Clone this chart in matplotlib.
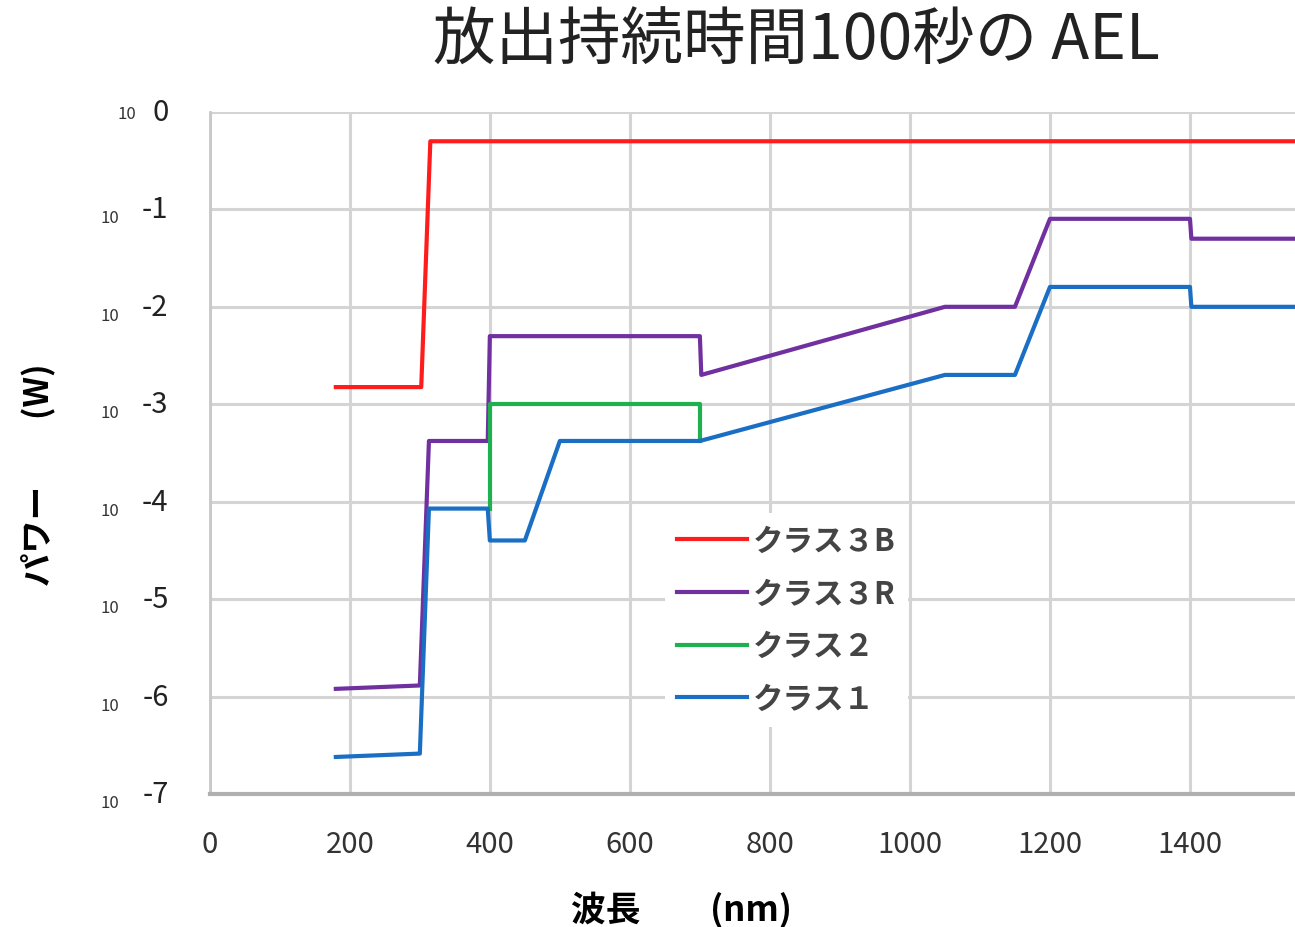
import matplotlib
matplotlib.use('Agg')
import matplotlib.pyplot as plt
import matplotlib.transforms as mtransforms

plt.rcParams['font.family'] = ['Noto Sans CJK JP', 'DejaVu Sans']

# data (wavelength nm, power W)
x_3b = [180, 302, 315, 1550]
y_3b = [1.5e-3, 1.5e-3, 0.5, 0.5]

x_3r = [180, 300, 313, 397, 400, 700, 702, 1050, 1150, 1200, 1400, 1402, 1550]
y_3r = [1.2e-6, 1.3e-6, 4.2e-4, 4.2e-4, 5e-3, 5e-3, 2e-3, 1e-2, 1e-2, 8e-2, 8e-2, 5e-2, 5e-2]

x_2 = [400, 400, 700, 700]
y_2 = [8.5e-5, 1e-3, 1e-3, 4.2e-4]

x_1 = [180, 300, 313, 397, 400, 450, 500, 700, 1050, 1150, 1200, 1400, 1402, 1550]
y_1 = [2.4e-7, 2.6e-7, 8.5e-5, 8.5e-5, 4e-5, 4e-5, 4.2e-4, 4.2e-4, 2e-3, 2e-3, 1.6e-2, 1.6e-2, 1e-2, 1e-2]

labels = ['クラス３B', 'クラス３R', 'クラス２', 'クラス１']
colors = ['#ff1c1c', '#7030a0', '#1fb050', '#1a6fc4']
x_ticks = [0, 200, 400, 600, 800, 1000, 1200, 1400]
exponents = [0, -1, -2, -3, -4, -5, -6, -7]

fig = plt.figure(figsize=(12.95, 9.28), dpi=100)
ax = fig.add_axes([0.162, 0.1433, 0.838, 0.735])

series = [(x_3b, y_3b), (x_3r, y_3r), (x_2, y_2), (x_1, y_1)]
for (xs, ys), lab, c in zip(series, labels, colors):
    ax.plot(xs, ys, color=c, lw=3, label=lab, solid_joinstyle='round')

ax.set_yscale('log')
ax.set_ylim(1e-7, 1)
ax.set_xlim(0, 1550)
ax.set_xticks(x_ticks)
ax.set_xticklabels([str(t) for t in x_ticks], fontsize=21, color='#333333')
ax.set_yticks([10.0 ** e for e in exponents])
ax.set_yticklabels([])
ax.minorticks_off()
ax.tick_params(axis='both', length=0)
ax.tick_params(axis='x', pad=25)
ax.grid(True, color='#d4d4d4', lw=2.2)
ax.set_axisbelow(True)
for s in ['top', 'right']:
    ax.spines[s].set_visible(False)
ax.spines['left'].set_color('#c8c8c8')
ax.spines['left'].set_linewidth(2)
ax.spines['bottom'].set_color('#b0b0b0')
ax.spines['bottom'].set_linewidth(3)

# y tick labels like "10 -3" with small base
trans = mtransforms.blended_transform_factory(ax.transAxes, ax.transData)
for e in exponents:
    if e == 0:
        ax.text(-0.038, 1.0, '0', transform=trans, ha='right', va='center',
                fontsize=21, color='#222222', clip_on=False)
        ax.text(-0.068, 1.0, '10', transform=trans, ha='right', va='center_baseline',
                fontsize=12, color='#333333', clip_on=False)
    else:
        ax.text(-0.038, 10.0 ** e, '-' + str(-e), transform=trans, ha='right', va='center',
                fontsize=21, color='#222222', clip_on=False)
        ax.text(-0.083, 10.0 ** e, '10', transform=trans, ha='right', va='top',
                fontsize=12, color='#333333', clip_on=False)

ax.set_xlabel('波長　　(nm)', fontsize=25, fontweight='bold')
ax.xaxis.label.set_va('center')
ax.xaxis.set_label_coords(0.435, -0.168)
ax.set_ylabel('パワー　　(W)', fontsize=24, fontweight='bold')
ax.yaxis.set_label_coords(-0.142, 0.47)
fig.text(0.615, 0.955, '放出持続時間100秒の AEL', ha='center', va='center', fontsize=45, color='#222222')

leg = ax.legend(loc='upper left', bbox_to_anchor=(0.405, 0.435), fontsize=22, frameon=True,
                facecolor='white', edgecolor='none', framealpha=1, handlelength=2.3,
                handletextpad=0.2, labelspacing=0.68, borderpad=0.4, fancybox=False)
for t in leg.get_texts():
    t.set_color('#444444')
    t.set_fontweight('bold')

fig.savefig('out.png', dpi=100)
